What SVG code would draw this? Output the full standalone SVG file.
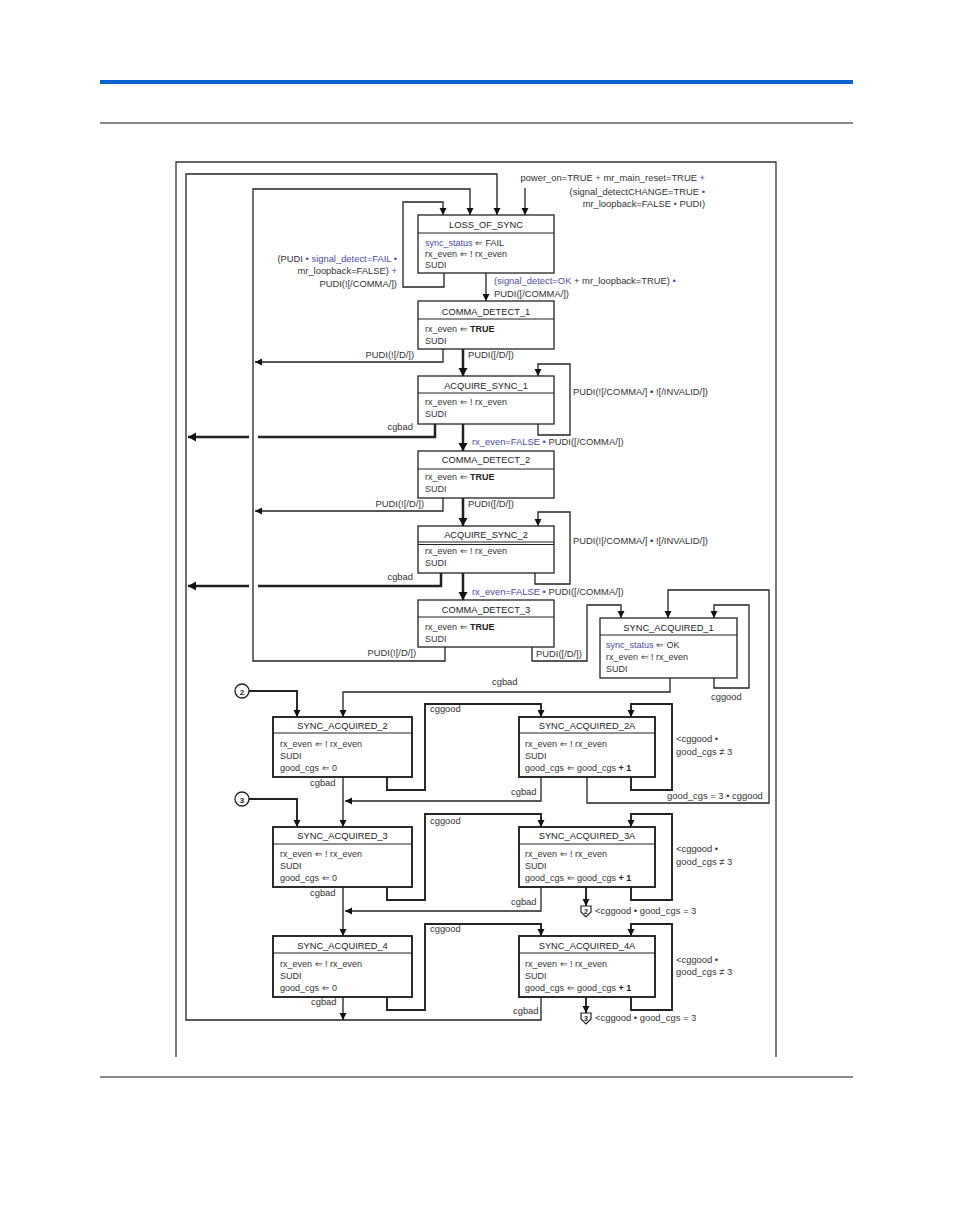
<svg xmlns="http://www.w3.org/2000/svg" width="954" height="1227" viewBox="0 0 954 1227">
<style>
text{font-family:"Liberation Sans",Arial,sans-serif;font-size:9px;fill:#333}
#labels text{font-size:9.4px}
.h{font-size:9.3px;text-anchor:middle;fill:#222}
.e{text-anchor:end}
.p{fill:#4c4c9e}
.b{font-weight:bold;fill:#222}
.ln{fill:none;stroke:#222;stroke-width:1.3}
.md{stroke-width:1.9}
.tk{stroke-width:2.5}
.box{fill:#fff;stroke:#222;stroke-width:1.3}
.sb{stroke-width:1.9}
.dv{stroke:#222;stroke-width:1.2}
</style>
<defs>
<marker id="a" markerUnits="userSpaceOnUse" markerWidth="8" markerHeight="8" refX="7" refY="3.5" orient="auto"><path d="M0,0 L7,3.5 L0,7 z" fill="#111"/></marker>
<marker id="ak" markerUnits="userSpaceOnUse" markerWidth="10" markerHeight="10" refX="8" refY="4.5" orient="auto"><path d="M0,0 L8,4.5 L0,9 z" fill="#111"/></marker>
</defs>
<g id="page">
<rect x="100" y="80" width="753" height="4" fill="#0b63ce"/>
<line x1="100" y1="123" x2="853" y2="123" stroke="#111" stroke-width="1"/>
<line x1="100" y1="1077" x2="853" y2="1077" stroke="#111" stroke-width="1"/>
<path d="M176,1057 V162 H776 V1057" fill="none" stroke="#333" stroke-width="1.3"/>
</g>
<g id="connectors">
<path class="ln" d="M541,997 V1020 H186 V174 H497 V215" marker-end="url(#a)"/>
<path class="ln" d="M445,647 V661 H253 V189 H470 V215" marker-end="url(#a)"/>
<path class="ln" d="M444,273 V287 H403 V202 H443 V215" marker-end="url(#a)"/>
<path class="ln" d="M525,188 V215" marker-end="url(#a)"/>
<path class="ln" d="M486,273 V301" marker-end="url(#a)"/>
<path class="ln" d="M443,349 V362 H255" marker-end="url(#a)"/>
<path class="ln tk" d="M463,349 V376" marker-end="url(#ak)"/>
<path class="ln" d="M538,424 V435 H570 V364 H538 V376" marker-end="url(#a)"/>
<path class="ln tk" d="M435,424 V437 H258 M249,437 H188" marker-end="url(#ak)"/>
<path class="ln tk" d="M463,424 V451" marker-end="url(#ak)"/>
<path class="ln" d="M443,498 V511 H255" marker-end="url(#a)"/>
<path class="ln tk" d="M463,498 V526" marker-end="url(#ak)"/>
<path class="ln" d="M535,573 V584 H570 V512 H538 V526" marker-end="url(#a)"/>
<path class="ln tk" d="M441,573 V586 H258 M249,586 H188" marker-end="url(#ak)"/>
<path class="ln tk" d="M463,573 V600" marker-end="url(#ak)"/>
<path class="ln" d="M532,647 V661 H587 V605 H621 V618" marker-end="url(#a)"/>
<path class="ln" d="M714,678 V688 H749 V605 H714 V618" marker-end="url(#a)"/>
<path class="ln" d="M587,777 V803 H769 V590 H668 V618" marker-end="url(#a)"/>
<path class="ln" d="M670,678 V692 H343 V717" marker-end="url(#a)"/>
<path class="ln md" d="M249,691 H297 V717" marker-end="url(#a)"/>
<path class="ln md" d="M387,777 V790 H425 V704 H541 V717" marker-end="url(#a)"/>
<path class="ln" d="M541,777 V801 H345" marker-end="url(#a)"/>
<path class="ln" d="M343,777 V827" marker-end="url(#a)"/>
<path class="ln md" d="M631,777 V790 H672 V704 H631 V717" marker-end="url(#a)"/>
<path class="ln md" d="M249,799 H297 V827" marker-end="url(#a)"/>
<path class="ln md" d="M387,887 V900 H425 V814 H541 V827" marker-end="url(#a)"/>
<path class="ln" d="M541,887 V911 H345" marker-end="url(#a)"/>
<path class="ln" d="M343,887 V936" marker-end="url(#a)"/>
<path class="ln md" d="M631,887 V900 H672 V814 H631 V827" marker-end="url(#a)"/>
<path class="ln md" d="M586,887 V906" marker-end="url(#a)"/>
<path class="ln md" d="M387,997 V1010 H425 V924 H541 V936" marker-end="url(#a)"/>
<path class="ln md" d="M631,997 V1010 H672 V924 H631 V936" marker-end="url(#a)"/>
<path class="ln md" d="M586,997 V1013" marker-end="url(#a)"/>
<path class="ln" d="M343,997 V1020" marker-end="url(#a)"/>
</g>
<g id="labels">
<text class="e" x="705" y="181">power_on=TRUE <tspan class="p">+</tspan> mr_main_reset=TRUE <tspan class="p">+</tspan></text>
<text class="e" x="705" y="195">(signal_detectCHANGE=TRUE <tspan class="p">•</tspan></text>
<text class="e" x="705" y="207">mr_loopback=FALSE <tspan class="p">•</tspan> PUDI)</text>
<text class="e" x="397" y="262">(PUDI <tspan class="p">• signal_detect=FAIL •</tspan></text>
<text class="e" x="397" y="274">mr_loopback=FALSE) <tspan class="p">+</tspan></text>
<text class="e" x="397" y="287">PUDI(![/COMMA/])</text>
<text x="494" y="284"><tspan class="p">(signal_detect=OK</tspan> + mr_loopback=TRUE) <tspan class="p">•</tspan></text>
<text x="494" y="297">PUDI([/COMMA/])</text>
<text class="e" x="414" y="358">PUDI(![/D/])</text>
<text x="468" y="358">PUDI([/D/])</text>
<text x="573" y="395">PUDI(![/COMMA/] • ![/INVALID/])</text>
<text class="e" x="413" y="430">cgbad</text>
<text x="472" y="445"><tspan class="p">rx_even=FALSE •</tspan> PUDI([/COMMA/])</text>
<text class="e" x="424" y="507">PUDI(![/D/])</text>
<text x="468" y="507">PUDI([/D/])</text>
<text x="573" y="544">PUDI(![/COMMA/] • ![/INVALID/])</text>
<text class="e" x="413" y="580">cgbad</text>
<text x="472" y="595"><tspan class="p">rx_even=FALSE •</tspan> PUDI([/COMMA/])</text>
<text class="e" x="416" y="656">PUDI(![/D/])</text>
<text x="536" y="657">PUDI([/D/])</text>
<text x="492" y="685">cgbad</text>
<text x="711" y="700">cggood</text>
<text x="430" y="712">cggood</text>
<text x="310" y="786">cgbad</text>
<text x="511" y="795">cgbad</text>
<text x="676" y="742">&lt;cggood •</text>
<text x="676" y="755">good_cgs ≠ 3</text>
<text x="667" y="799">good_cgs = 3 • cggood</text>
<text x="430" y="824">cggood</text>
<text x="310" y="896">cgbad</text>
<text x="511" y="905">cgbad</text>
<text x="676" y="852">&lt;cggood •</text>
<text x="676" y="865">good_cgs ≠ 3</text>
<text x="595" y="914">&lt;cggood • good_cgs = 3</text>
<text x="430" y="932">cggood</text>
<text x="311" y="1005">cgbad</text>
<text x="513" y="1014">cgbad</text>
<text x="676" y="963">&lt;cggood •</text>
<text x="676" y="975">good_cgs ≠ 3</text>
<text x="595" y="1021">&lt;cggood • good_cgs = 3</text>
</g>
<g id="conn2in">
<circle cx="242" cy="691" r="7" fill="#fff" stroke="#222" stroke-width="1.3"/>
<text x="242" y="694.5" text-anchor="middle" class="b" style="font-size:8px">2</text>
</g>
<g id="conn3in">
<circle cx="242" cy="799" r="7" fill="#fff" stroke="#222" stroke-width="1.3"/>
<text x="242" y="802.5" text-anchor="middle" class="b" style="font-size:8px">3</text>
</g>
<g id="conn2out">
<path d="M581,906 h10 v6 l-5,5 l-5,-5 z" fill="#fff" stroke="#222" stroke-width="1.2"/>
<text x="586" y="914" text-anchor="middle" class="b" style="font-size:7px">2</text>
</g>
<g id="conn3out">
<path d="M581,1013 h10 v6 l-5,5 l-5,-5 z" fill="#fff" stroke="#222" stroke-width="1.2"/>
<text x="586" y="1021" text-anchor="middle" class="b" style="font-size:7px">3</text>
</g>
<g id="LOSS_OF_SYNC">
<rect class="box" x="418" y="215" width="136" height="58"/>
<line class="dv" x1="418" y1="233" x2="554" y2="233"/>
<text class="h" x="486" y="227.5">LOSS_OF_SYNC</text>
<text x="425" y="246"><tspan class="p">sync_status</tspan> ⇐ FAIL</text>
<text x="425" y="257">rx_even ⇐ ! rx_even</text>
<text x="425" y="268">SUDI</text>
</g>
<g id="COMMA_DETECT_1">
<rect class="box" x="418" y="301" width="136" height="48"/>
<line class="dv" x1="418" y1="319" x2="554" y2="319"/>
<text class="h" x="486" y="314.5">COMMA_DETECT_1</text>
<text x="425" y="331.5">rx_even ⇐ <tspan class="b">TRUE</tspan></text>
<text x="425" y="343.5">SUDI</text>
</g>
<g id="ACQUIRE_SYNC_1">
<rect class="box" x="418" y="376" width="136" height="48"/>
<line class="dv" x1="418" y1="393" x2="554" y2="393"/>
<text class="h" x="486" y="389">ACQUIRE_SYNC_1</text>
<text x="425" y="405">rx_even ⇐ ! rx_even</text>
<text x="425" y="416.5">SUDI</text>
</g>
<g id="COMMA_DETECT_2">
<rect class="box" x="418" y="451" width="136" height="47"/>
<line class="dv" x1="418" y1="469" x2="554" y2="469"/>
<text class="h" x="486" y="462.5">COMMA_DETECT_2</text>
<text x="425" y="479.5">rx_even ⇐ <tspan class="b">TRUE</tspan></text>
<text x="425" y="491.5">SUDI</text>
</g>
<g id="ACQUIRE_SYNC_2">
<rect class="box" x="418" y="526" width="136" height="47"/>
<line class="dv" x1="418" y1="542" x2="554" y2="542"/>
<line class="dv" x1="418" y1="544.5" x2="554" y2="544.5"/>
<text class="h" x="486" y="537.5">ACQUIRE_SYNC_2</text>
<text x="425" y="554">rx_even ⇐ ! rx_even</text>
<text x="425" y="566">SUDI</text>
</g>
<g id="COMMA_DETECT_3">
<rect class="box" x="418" y="600" width="136" height="47"/>
<line class="dv" x1="418" y1="617" x2="554" y2="617"/>
<text class="h" x="486" y="612.5">COMMA_DETECT_3</text>
<text x="425" y="629.5">rx_even ⇐ <tspan class="b">TRUE</tspan></text>
<text x="425" y="641.5">SUDI</text>
</g>
<g id="SYNC_ACQUIRED_1">
<rect class="box" x="600" y="618" width="137" height="60"/>
<line class="dv" x1="600" y1="635" x2="737" y2="635"/>
<text class="h" x="668.5" y="630.5">SYNC_ACQUIRED_1</text>
<text x="606" y="647.5"><tspan class="p">sync_status</tspan> ⇐ OK</text>
<text x="606" y="660">rx_even ⇐ ! rx_even</text>
<text x="606" y="672">SUDI</text>
</g>
<g id="SYNC_ACQUIRED_2">
<rect class="box sb" x="273" y="717" width="139" height="60"/>
<line class="dv" x1="273" y1="733" x2="412" y2="733"/>
<text class="h" x="342.5" y="728.5">SYNC_ACQUIRED_2</text>
<text x="280" y="746.5">rx_even ⇐ ! rx_even</text>
<text x="280" y="758.5">SUDI</text>
<text x="280" y="771">good_cgs ⇐ 0</text>
</g>
<g id="SYNC_ACQUIRED_2A">
<rect class="box sb" x="519" y="717" width="136" height="60"/>
<line class="dv" x1="519" y1="733" x2="655" y2="733"/>
<text class="h" x="587" y="728.5">SYNC_ACQUIRED_2A</text>
<text x="525" y="746.5">rx_even ⇐ ! rx_even</text>
<text x="525" y="758.5">SUDI</text>
<text x="525" y="771">good_cgs ⇐ good_cgs <tspan class="b">+ 1</tspan></text>
</g>
<g id="SYNC_ACQUIRED_3">
<rect class="box sb" x="273" y="827" width="139" height="60"/>
<line class="dv" x1="273" y1="844" x2="412" y2="844"/>
<text class="h" x="342.5" y="839">SYNC_ACQUIRED_3</text>
<text x="280" y="856.5">rx_even ⇐ ! rx_even</text>
<text x="280" y="868.5">SUDI</text>
<text x="280" y="881">good_cgs ⇐ 0</text>
</g>
<g id="SYNC_ACQUIRED_3A">
<rect class="box sb" x="519" y="827" width="136" height="60"/>
<line class="dv" x1="519" y1="844" x2="655" y2="844"/>
<text class="h" x="587" y="839">SYNC_ACQUIRED_3A</text>
<text x="525" y="856.5">rx_even ⇐ ! rx_even</text>
<text x="525" y="868.5">SUDI</text>
<text x="525" y="881">good_cgs ⇐ good_cgs <tspan class="b">+ 1</tspan></text>
</g>
<g id="SYNC_ACQUIRED_4">
<rect class="box sb" x="273" y="936" width="139" height="61"/>
<line class="dv" x1="273" y1="953" x2="412" y2="953"/>
<text class="h" x="342.5" y="948.5">SYNC_ACQUIRED_4</text>
<text x="280" y="966.5">rx_even ⇐ ! rx_even</text>
<text x="280" y="978.5">SUDI</text>
<text x="280" y="991">good_cgs ⇐ 0</text>
</g>
<g id="SYNC_ACQUIRED_4A">
<rect class="box sb" x="519" y="936" width="136" height="61"/>
<line class="dv" x1="519" y1="953" x2="655" y2="953"/>
<text class="h" x="587" y="948.5">SYNC_ACQUIRED_4A</text>
<text x="525" y="966.5">rx_even ⇐ ! rx_even</text>
<text x="525" y="978.5">SUDI</text>
<text x="525" y="991">good_cgs ⇐ good_cgs <tspan class="b">+ 1</tspan></text>
</g>
</svg>
